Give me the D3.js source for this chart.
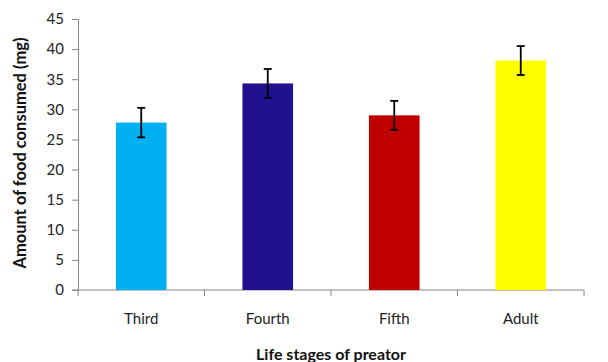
<!DOCTYPE html>
<html><head><meta charset="utf-8">
<script src="https://cdn.jsdelivr.net/npm/d3@7"></script>
<style>body{margin:0;background:#fff}svg{display:block}text{font-family:Lato,"Open Sans",sans-serif}</style>
</head><body>
<svg id="c" width="608" height="362"></svg>
<script>
const categories = ["Third", "Fourth", "Fifth", "Adult"];
const values = [27.8, 34.3, 29.0, 38.1];
const errors = [2.45, 2.4, 2.4, 2.4];
const colors = ["#00B0F0", "#21108F", "#C00000", "#FFFF00"];
const yTicks = [0, 5, 10, 15, 20, 25, 30, 35, 40, 45];

(function () {
const svg = d3.select("#c");
const mLeft = 78, mRight = 584, mTop = 19, mBottom = 290;
const x = d3.scaleBand().domain(categories).range([mLeft, mRight]).paddingInner(0.6).paddingOuter(0.3);
const y = d3.scaleLinear().domain([0, 45]).range([mBottom, mTop]);
const axisColor = "#868686";

// y axis
const ya = svg.append("g").attr("transform", `translate(${mLeft},0)`)
  .call(d3.axisLeft(y).tickValues(yTicks).tickSize(6).tickPadding(8));
ya.select(".domain").attr("stroke", axisColor);
ya.selectAll(".tick line").attr("stroke", axisColor);
ya.selectAll(".tick text").attr("fill", "#222").style("font-size", "15px").style("font-family", "Lato,sans-serif");

// x axis
const xa = svg.append("g").attr("transform", `translate(0,${mBottom})`);
xa.append("line").attr("x1", mLeft - 6).attr("x2", mRight).attr("stroke", axisColor);
const bounds = d3.range(categories.length + 1).map(i => mLeft + i * (mRight - mLeft) / categories.length);
xa.selectAll("line.t").data(bounds).join("line").attr("class", "t")
  .attr("x1", d => d).attr("x2", d => d).attr("y1", 0).attr("y2", 6).attr("stroke", axisColor);
xa.selectAll("text").data(categories).join("text")
  .attr("x", d => x(d) + x.bandwidth() / 2).attr("y", 34)
  .attr("text-anchor", "middle").attr("fill", "#222").style("font-size", "15px").text(d => d);

// bars
svg.selectAll("rect.bar").data(categories).join("rect").attr("class", "bar")
  .attr("x", d => x(d)).attr("width", x.bandwidth())
  .attr("y", (d, i) => y(values[i])).attr("height", (d, i) => mBottom - y(values[i]))
  .attr("fill", (d, i) => colors[i]);

// error bars
const eb = svg.append("g").attr("stroke", "#000").attr("stroke-width", 1.8);
categories.forEach((c, i) => {
  const cx = x(c) + x.bandwidth() / 2;
  const hi = y(values[i] + errors[i]), lo = y(values[i] - errors[i]);
  eb.append("line").attr("x1", cx).attr("x2", cx).attr("y1", hi).attr("y2", lo);
  eb.append("line").attr("x1", cx - 4).attr("x2", cx + 4).attr("y1", hi).attr("y2", hi);
  eb.append("line").attr("x1", cx - 4).attr("x2", cx + 4).attr("y1", lo).attr("y2", lo);
});

// titles
svg.append("text").attr("x", 331).attr("y", 360).attr("text-anchor", "middle")
  .style("font-size", "16px").style("font-weight", "bold").attr("fill", "#111").text("Life stages of preator");
svg.append("text").attr("transform", "translate(26,153) rotate(-90)").attr("text-anchor", "middle")
  .style("font-size", "16.5px").style("font-weight", "bold").attr("fill", "#111").text("Amount of food consumed (mg)");
})();
</script>
</body></html>
